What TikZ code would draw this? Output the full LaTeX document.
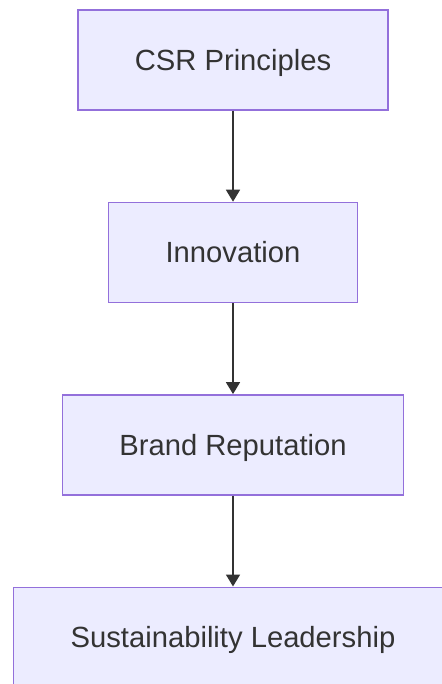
\documentclass[tikz,border=0pt]{standalone}
\usepackage{fontspec}
\setmainfont{Liberation Sans}
\usetikzlibrary{positioning,arrows.meta}

\definecolor{boxfill}{HTML}{ECECFF}
\definecolor{boxline}{HTML}{9370DB}
\definecolor{linkgray}{HTML}{333333}

\tikzset{every picture/.style={line width=0.75pt}}
\tikzset{
  flowbox/.style={draw=boxline, fill=boxfill, line width=1.4pt,
    minimum height=100pt, inner xsep=57pt, text height=21pt, text depth=0pt,
    text=linkgray, font=\fontsize{29.2}{35}\selectfont},
  flowlink/.style={draw=linkgray, line width=1.6pt,
    -{Triangle[width=14pt,length=12pt]}}
}

\begin{document}
\begin{tikzpicture}[x=1pt,y=1pt,yscale=-1,xscale=1,node distance=91pt]
%set diagram frame: width 441, height 684
\useasboundingbox (0,0) rectangle (441,684);
% Text Node
\node [flowbox] (csr) at (233,60) {CSR Principles};
% Text Node
\node [flowbox, below=of csr] (innov) {Innovation};
% Text Node
\node [flowbox, below=of innov] (brand) {Brand Reputation};
% Text Node
\node [flowbox, below=of brand] (lead) {Sustainability Leadership};
%Straight Lines
\draw [flowlink] (csr) -- (innov);
\draw [flowlink] (innov) -- (brand);
\draw [flowlink] (brand) -- (lead);
\end{tikzpicture}
\end{document}
